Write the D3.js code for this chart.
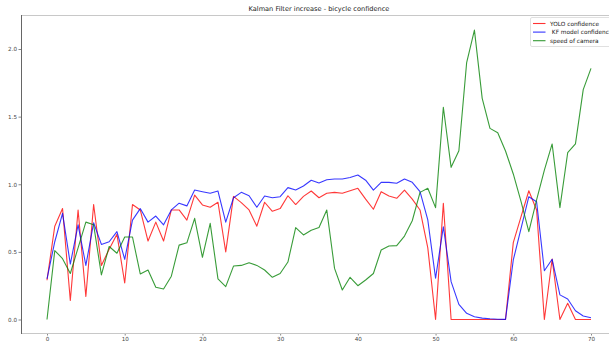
<!DOCTYPE html>
<html><head><meta charset="utf-8">
<script src="https://cdn.jsdelivr.net/npm/d3@7"></script>
<style>
html,body{margin:0;padding:0;background:#fff;}
svg{display:block;font-family:"DejaVu Sans",sans-serif;}
</style></head>
<body><svg id="chart" width="609" height="342"></svg>
<script>
// ---- data ----
const title = "Kalman Filter increase - bicycle confidence";
const seriesNames = ["YOLO confidence", " KF model confidence", "speed of camera"];
const seriesColors = ["#ff0000", "#0000ff", "#008000"];
const xTicks = [0, 10, 20, 30, 40, 50, 60, 70];
const yTicks = [0.0, 0.5, 1.0, 1.5, 2.0];
const yoloConfidence = [
  0.29, 0.69, 0.82, 0.14, 0.81, 0.17, 0.85, 0.40, 0.52, 0.63,
  0.27, 0.85, 0.81, 0.58, 0.72, 0.58, 0.81, 0.81, 0.735, 0.92,
  0.847, 0.83, 0.867, 0.50, 0.91, 0.864, 0.81, 0.69, 0.867, 0.80,
  0.82, 0.915, 0.85, 0.91, 0.95, 0.90, 0.933, 0.94, 0.933, 0.952,
  0.97, 0.89, 0.815, 0.945, 0.913, 0.896, 0.957, 0.89, 0.81, 0.53,
  0.0, 0.86, 0.0, 0.0, 0.0, 0.0, 0.0, 0.0, 0.0, 0.0,
  0.568, 0.76, 0.952, 0.81, 0.0, 0.447, 0.0, 0.12, 0.0, 0.0,
  0.0
];
const kfConfidence = [
  0.30, 0.575, 0.785, 0.41, 0.70, 0.40, 0.715, 0.555, 0.575, 0.65,
  0.445, 0.735, 0.82, 0.72, 0.765, 0.70, 0.81, 0.86, 0.84, 0.957,
  0.945, 0.933, 0.95, 0.72, 0.90, 0.94, 0.915, 0.83, 0.913, 0.90,
  0.908, 0.975, 0.957, 0.987, 1.03, 1.01, 1.033, 1.039, 1.039, 1.05,
  1.068, 1.03, 0.957, 1.014, 1.014, 1.007, 1.039, 1.014, 0.945, 0.736,
  0.305, 0.686, 0.28, 0.112, 0.046, 0.02, 0.01, 0.005, 0.002, 0.001,
  0.44, 0.674, 0.908, 0.871, 0.36, 0.445, 0.182, 0.152, 0.065, 0.026,
  0.013
];
const cameraSpeed = [
  0.0, 0.51, 0.45, 0.34, 0.53, 0.72, 0.70, 0.33, 0.54, 0.49,
  0.61, 0.61, 0.337, 0.366, 0.238, 0.226, 0.32, 0.55, 0.567, 0.748,
  0.46, 0.711, 0.30, 0.243, 0.395, 0.40, 0.42, 0.40, 0.366, 0.312,
  0.34, 0.425, 0.68, 0.625, 0.66, 0.68, 0.81, 0.378, 0.218, 0.312,
  0.25, 0.292, 0.34, 0.514, 0.543, 0.546, 0.617, 0.73, 0.94, 0.97,
  0.827, 1.569, 1.125, 1.248, 1.90, 2.14, 1.635, 1.413, 1.381, 1.246,
  1.076, 0.871, 0.649, 0.884, 1.105, 1.298, 0.827, 1.233, 1.298, 1.70,
  1.857
];
const seriesValues = [yoloConfidence, kfConfidence, cameraSpeed];

// ---- layout ----
const svg = d3.select("#chart");
const plot = {left: 21, right: 618, top: 15, bottom: 333};

const x = d3.scaleLinear().domain([0, 70]).range([47, 591]);
const y = d3.scaleLinear().domain([0, 2]).range([319.5, 49]);

svg.append("defs").append("clipPath").attr("id", "clip")
  .append("rect").attr("x", plot.left).attr("y", plot.top)
  .attr("width", plot.right - plot.left).attr("height", plot.bottom - plot.top);

// top spine
svg.append("line").attr("x1", plot.left).attr("x2", plot.right).attr("y1", plot.top + 0.5).attr("y2", plot.top + 0.5)
  .attr("stroke", "#c8c8c8").attr("stroke-width", 1);

// lines
const line = d3.line().x((d, i) => x(i)).y(d => y(d));
const g = svg.append("g").attr("clip-path", "url(#clip)");
seriesValues.forEach((vals, k) => {
  g.append("path").datum(vals).attr("d", line)
    .attr("fill", "none").attr("stroke", seriesColors[k])
    .attr("stroke-width", 1.1).attr("stroke-opacity", 0.78)
    .attr("stroke-linejoin", "round");
});

// x axis
const xAxis = d3.axisBottom(x).tickValues(xTicks).tickFormat(d3.format("d")).tickSize(2.5).tickPadding(1.5);
const gx = svg.append("g").attr("transform", `translate(0,${plot.bottom})`).call(xAxis);
gx.select(".domain").remove();
gx.append("line").attr("x1", plot.left).attr("x2", plot.right).attr("y1", 0.5).attr("y2", 0.5)
  .attr("stroke", "#c8c8c8").attr("stroke-width", 1);
gx.selectAll(".tick line").attr("stroke", "#555").attr("stroke-width", 0.7);
gx.selectAll(".tick text").attr("fill", "#444").style("font-size", "5.6px").style("font-family", "DejaVu Sans");

// y axis
const yAxis = d3.axisLeft(y).tickValues(yTicks).tickFormat(d3.format(".1f")).tickSize(2.5).tickPadding(1.5);
const gy = svg.append("g").attr("transform", `translate(${plot.left},0)`).call(yAxis);
gy.select(".domain").remove();
gy.append("line").attr("x1", 0.5).attr("x2", 0.5).attr("y1", plot.top).attr("y2", plot.bottom + 1)
  .attr("stroke", "#666").attr("stroke-width", 1);
gy.selectAll(".tick line").attr("stroke", "#555").attr("stroke-width", 0.7);
gy.selectAll(".tick text").attr("fill", "#444").style("font-size", "5.6px").style("font-family", "DejaVu Sans");

// title
svg.append("text").attr("x", 319).attr("y", 10.5).attr("text-anchor", "middle")
  .style("font-size", "6.6px").attr("fill", "#222").text(title);

// legend
const lg = svg.append("g").attr("transform", "translate(530,17)");
lg.append("rect").attr("x", 0.5).attr("y", 0.5).attr("width", 100).attr("height", 29).attr("rx", 1.5)
  .attr("fill", "#fff").attr("fill-opacity", 0.85).attr("stroke", "#d8d8d8").attr("stroke-width", 0.8);
seriesNames.forEach((name, k) => {
  const yy = 6.5 + k * 8.6;
  lg.append("line").attr("x1", 3).attr("x2", 15.5).attr("y1", yy).attr("y2", yy)
    .attr("stroke", seriesColors[k]).attr("stroke-width", 1.1).attr("stroke-opacity", 0.8);
  lg.append("text").attr("x", 20).attr("y", yy + 2).style("font-size", "5.8px")
    .style("white-space", "pre").attr("xml:space", "preserve").attr("fill", "#222").text(name);
});
</script>
</body></html>
